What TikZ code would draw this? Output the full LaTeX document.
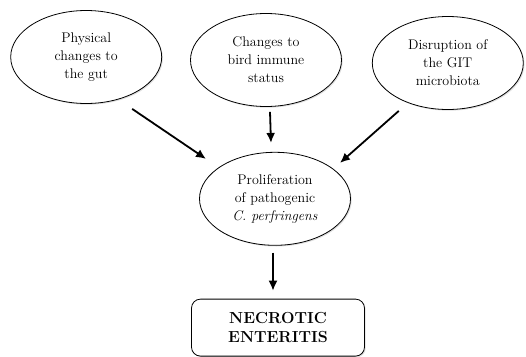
\documentclass[tikz,border=0pt]{standalone}
\usepackage{tikz}
\usetikzlibrary{shapes.geometric}
\usetikzlibrary{arrows.meta}
\usetikzlibrary{calc}
\usetikzlibrary{positioning}
\usetikzlibrary{shadows}

\begin{document}
\begin{tikzpicture}[>={Latex[length=10pt,width=9pt]}, x=1pt, y=1pt]
        \tikzset{cause/.style={draw, ellipse, align=center, thick, fill=white, inner sep=0pt,
            minimum width=151pt, minimum height=93pt, font=\fontsize{14}{18}\selectfont,
            drop shadow={opacity=0.25, shadow xshift=1.2pt, shadow yshift=-1.2pt}},
        outcome/.style={draw, rectangle, rounded corners=9pt, align=center, thick, fill=white,
            minimum width=173pt, minimum height=57pt, font=\fontsize{16}{19}\selectfont\bfseries,
            drop shadow={opacity=0.25, shadow xshift=1.2pt, shadow yshift=-1.2pt}},
        arr/.style={->, line width=1.8pt}
        }
        \node [cause] (immune) {Changes to\\bird immune\\status};
        \node [cause, left =28pt of immune, yshift=3pt] (phys) {Physical\\changes to\\the gut};
        \node [cause, right =30pt of immune, yshift=-3pt] (disrupt) {Disruption of\\the GIT\\microbiota};
        \node [cause, below =45pt of immune, xshift=9pt] (prolif) {Proliferation\\of pathogenic\\\textit{C. perfringens}};
        \node [outcome, below =53pt of prolif, xshift=3pt] (necro) {NECROTIC\\ENTERITIS};

%% paths
        \useasboundingbox ($(immune)+(-266,60)$) rectangle ($(immune)+(260,-296)$);
        \draw[arr] ([xshift=46pt,yshift=-5pt]phys.south) -- ([xshift=-69pt,yshift=-7pt]prolif.north);
        \draw[arr] ([xshift=4pt,yshift=-5pt]immune.south) -- ([xshift=-4pt,yshift=9pt]prolif.north);
        \draw[arr] ([xshift=-49pt,yshift=-1pt]disrupt.south) -- ([xshift=65pt,yshift=-11pt]prolif.north);
        \draw[arr] ([xshift=-2pt,yshift=-7pt]prolif.south) -- ([xshift=-5pt,yshift=8pt]necro.north);
    \end{tikzpicture}
\end{document}
